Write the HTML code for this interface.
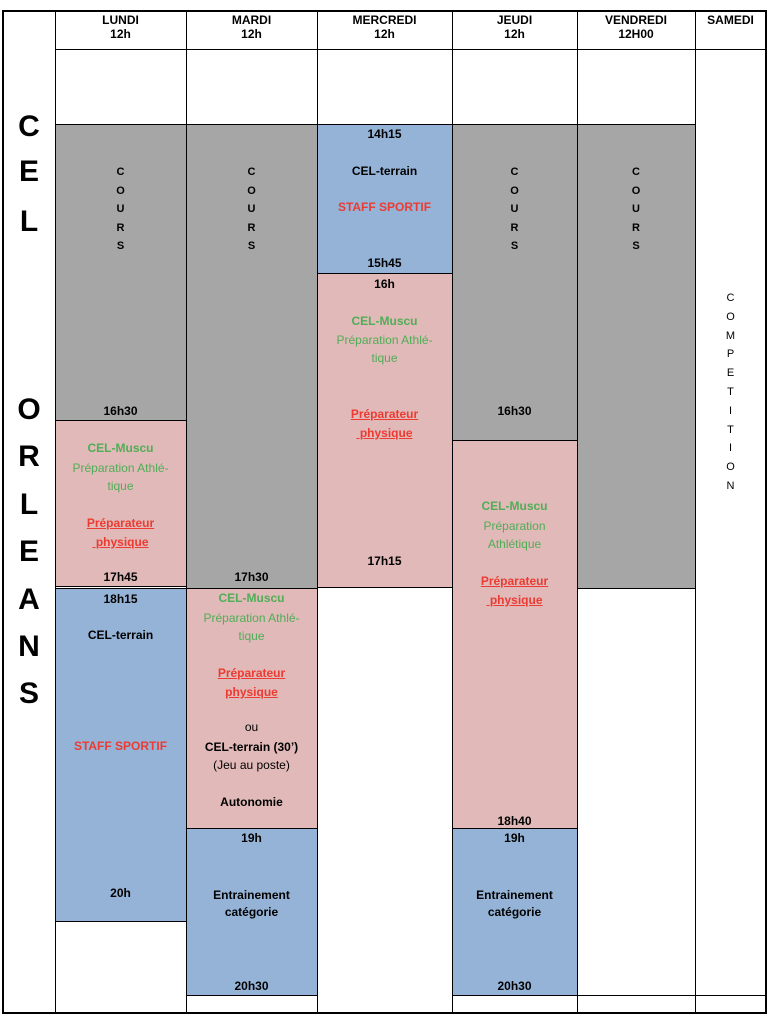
<!DOCTYPE html><html><head><meta charset="utf-8"><style>
body{margin:0;width:769px;height:1024px;background:#fff;position:relative;overflow:hidden;font-family:"Liberation Sans",sans-serif;}
.b{position:absolute;box-sizing:border-box;border:1.5px solid #000;}
.t{position:absolute;text-align:center;font-size:12px;font-weight:bold;color:#000;line-height:14px;white-space:nowrap;}
.g{color:#4fae56;}.gn{color:#4fae56;font-weight:normal;}
.r{color:#ec3b32;}.u{text-decoration:underline;}
.gr{background:#a6a6a6}.pk{background:#e0b9b8}.bl{background:#95b3d7}
.big{position:absolute;left:3px;width:52px;text-align:center;font-size:30px;font-weight:bold;}
</style></head><body>
<div class="b" style="left:2px;top:10px;width:765px;height:1004px;border-width:2px"></div>
<div class="b" style="left:55px;top:10px;width:132px;height:40px"></div>
<div class="b" style="left:186px;top:10px;width:132px;height:40px"></div>
<div class="b" style="left:317px;top:10px;width:136px;height:40px"></div>
<div class="b" style="left:452px;top:10px;width:126px;height:40px"></div>
<div class="b" style="left:577px;top:10px;width:119px;height:40px"></div>
<div class="b" style="left:695px;top:10px;width:72px;height:40px"></div>
<div class="b" style="left:55px;top:49px;width:132px;height:965px"></div>
<div class="b" style="left:186px;top:49px;width:132px;height:965px"></div>
<div class="b" style="left:317px;top:49px;width:136px;height:965px"></div>
<div class="b" style="left:452px;top:49px;width:126px;height:965px"></div>
<div class="b" style="left:577px;top:49px;width:119px;height:965px"></div>
<div class="b" style="left:695px;top:49px;width:72px;height:965px"></div>
<div class="b" style="left:186px;top:995px;width:132px;height:19px"></div>
<div class="b" style="left:452px;top:995px;width:126px;height:19px"></div>
<div class="b" style="left:577px;top:995px;width:119px;height:19px"></div>
<div class="b" style="left:695px;top:995px;width:72px;height:19px"></div>
<div class="b" style="left:55px;top:920px;width:132px;height:94px"></div>
<div class="t" style="left:55px;width:131px;top:13px">LUNDI<br>12h</div>
<div class="t" style="left:186px;width:131px;top:13px">MARDI<br>12h</div>
<div class="t" style="left:317px;width:135px;top:13px">MERCREDI<br>12h</div>
<div class="t" style="left:452px;width:125px;top:13px">JEUDI<br>12h</div>
<div class="t" style="left:577px;width:118px;top:13px">VENDREDI<br>12H00</div>
<div class="t" style="left:695px;width:71px;top:13px">SAMEDI</div>
<div class="big" style="top:110px">C</div><div class="big" style="top:155px">E</div><div class="big" style="top:205px">L</div>
<div class="big" style="top:393px">O</div><div class="big" style="top:440px">R</div><div class="big" style="top:488px">L</div><div class="big" style="top:535px">E</div><div class="big" style="top:583px">A</div><div class="big" style="top:630px">N</div><div class="big" style="top:677px">S</div>
<div class="b gr" style="left:55px;top:124px;width:132px;height:297px"></div>
<div class="t" style="left:55px;width:131px;top:163px;font-size:11px;line-height:18.5px;font-weight:bold">C<br>O<br>U<br>R<br>S</div>
<div class="t" style="left:55px;width:131px;top:404px">16h30</div>
<div class="b pk" style="left:55px;top:420px;width:132px;height:167px"></div>
<div class="t g" style="left:55px;width:131px;top:441px">CEL-Muscu</div>
<div class="t gn" style="left:55px;width:131px;top:459px;line-height:18px">Préparation Athlé-<br>tique</div>
<div class="t r u" style="left:55px;width:131px;top:514px;line-height:19px">Préparateur<br>&nbsp;physique</div>
<div class="t" style="left:55px;width:131px;top:570px">17h45</div>
<div class="b bl" style="left:55px;top:588px;width:132px;height:334px"></div>
<div class="t" style="left:55px;width:131px;top:592px">18h15</div>
<div class="t" style="left:55px;width:131px;top:628px">CEL-terrain</div>
<div class="t r" style="left:55px;width:131px;top:739px">STAFF SPORTIF</div>
<div class="t" style="left:55px;width:131px;top:886px">20h</div>
<div class="b gr" style="left:186px;top:124px;width:132px;height:465px"></div>
<div class="t" style="left:186px;width:131px;top:163px;font-size:11px;line-height:18.5px">C<br>O<br>U<br>R<br>S</div>
<div class="t" style="left:186px;width:131px;top:570px">17h30</div>
<div class="b pk" style="left:186px;top:588px;width:132px;height:241px"></div>
<div class="t g" style="left:186px;width:131px;top:591px">CEL-Muscu</div>
<div class="t gn" style="left:186px;width:131px;top:609px;line-height:18px">Préparation Athlé-<br>tique</div>
<div class="t r u" style="left:186px;width:131px;top:664px;line-height:19px">Préparateur<br>physique</div>
<div class="t" style="left:186px;width:131px;top:720px;font-weight:normal">ou</div>
<div class="t" style="left:186px;width:131px;top:740px">CEL-terrain (30’)</div>
<div class="t" style="left:186px;width:131px;top:758px;font-weight:normal">(Jeu au poste)</div>
<div class="t" style="left:186px;width:131px;top:795px">Autonomie</div>
<div class="b bl" style="left:186px;top:828px;width:132px;height:168px"></div>
<div class="t" style="left:186px;width:131px;top:831px">19h</div>
<div class="t" style="left:186px;width:131px;top:887px;line-height:17px">Entrainement<br>catégorie</div>
<div class="t" style="left:186px;width:131px;top:979px">20h30</div>
<div class="b bl" style="left:317px;top:124px;width:136px;height:150px"></div>
<div class="t" style="left:317px;width:135px;top:127px">14h15</div>
<div class="t" style="left:317px;width:135px;top:164px">CEL-terrain</div>
<div class="t r" style="left:317px;width:135px;top:200px">STAFF SPORTIF</div>
<div class="t" style="left:317px;width:135px;top:256px">15h45</div>
<div class="b pk" style="left:317px;top:273px;width:136px;height:315px"></div>
<div class="t" style="left:317px;width:135px;top:277px">16h</div>
<div class="t g" style="left:317px;width:135px;top:314px">CEL-Muscu</div>
<div class="t gn" style="left:317px;width:135px;top:331px;line-height:18px">Préparation Athlé-<br>tique</div>
<div class="t r u" style="left:317px;width:135px;top:405px;line-height:19px">Préparateur<br>&nbsp;physique</div>
<div class="t" style="left:317px;width:135px;top:554px">17h15</div>
<div class="b gr" style="left:452px;top:124px;width:126px;height:317px"></div>
<div class="t" style="left:452px;width:125px;top:163px;font-size:11px;line-height:18.5px">C<br>O<br>U<br>R<br>S</div>
<div class="t" style="left:452px;width:125px;top:404px">16h30</div>
<div class="b pk" style="left:452px;top:440px;width:126px;height:389px"></div>
<div class="t g" style="left:452px;width:125px;top:499px">CEL-Muscu</div>
<div class="t gn" style="left:452px;width:125px;top:517px;line-height:18px">Préparation<br>Athlétique</div>
<div class="t r u" style="left:452px;width:125px;top:572px;line-height:19px">Préparateur<br>&nbsp;physique</div>
<div class="t" style="left:452px;width:125px;top:814px">18h40</div>
<div class="b bl" style="left:452px;top:828px;width:126px;height:168px"></div>
<div class="t" style="left:452px;width:125px;top:831px">19h</div>
<div class="t" style="left:452px;width:125px;top:887px;line-height:17px">Entrainement<br>catégorie</div>
<div class="t" style="left:452px;width:125px;top:979px">20h30</div>
<div class="b gr" style="left:577px;top:124px;width:119px;height:465px"></div>
<div class="t" style="left:577px;width:118px;top:163px;font-size:11px;line-height:18.5px">C<br>O<br>U<br>R<br>S</div>
<div class="t" style="left:695px;width:71px;top:289px;font-size:11px;font-weight:normal;line-height:18.8px">C<br>O<br>M<br>P<br>E<br>T<br>I<br>T<br>I<br>O<br>N</div>
</body></html>
